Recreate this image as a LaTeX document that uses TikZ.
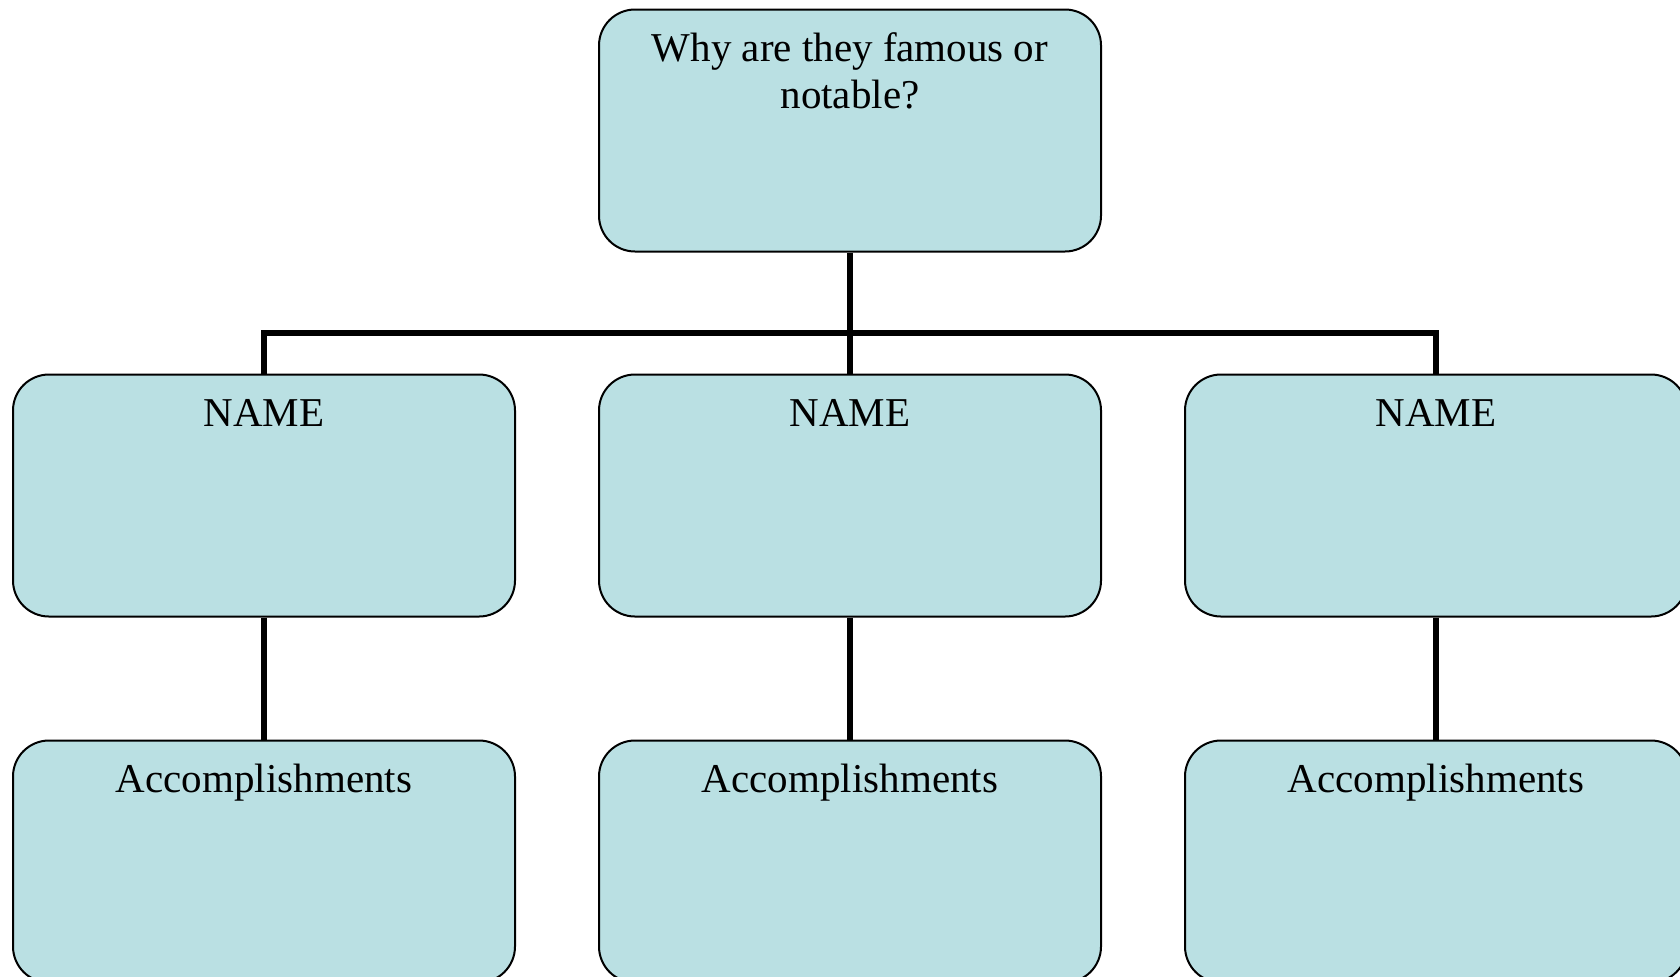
\documentclass[tikz,border=0pt]{standalone}
\usepackage{fontspec}
\setmainfont{Liberation Serif}
\usepackage{xcolor}
\definecolor{boxfill}{RGB}{186,224,227}
\usetikzlibrary{positioning}
\tikzstyle{chartbox} = [draw, line width=1pt, fill=boxfill, rounded corners=18pt,
    minimum width=251pt, align=center, inner xsep=6pt, inner ysep=12pt,
    text height=14pt, text depth=83pt, font=\fontsize{20.5pt}{23.5pt}\selectfont]
\tikzstyle{twoline} = [text height=37.5pt, text depth=59.5pt]
\tikzstyle{line} = [line width=3pt, -]

\begin{document}
\begin{tikzpicture}[x=0.5pt, y=-0.5pt]
        \useasboundingbox (0,0) rectangle (1680,976);

        \node[chartbox, twoline] (why) at (850,130.5) {Why are they famous or\\notable?};

        \node[chartbox, below=60.5pt of why] (name2) {NAME};
        \node[chartbox, left=41pt of name2] (name1) {NAME};
        \node[chartbox, right=41pt of name2] (name3) {NAME};

        \node[chartbox, below=61pt of name1] (acc1) {Accomplishments};
        \node[chartbox, below=61pt of name2] (acc2) {Accomplishments};
        \node[chartbox, below=61pt of name3] (acc3) {Accomplishments};

        % Draw Lines
        \coordinate (bar) at ([yshift=20.5pt]name2.north);
        \draw[line] (why.south) -- (name2.north);
        \draw[line] (name1.north) |- (bar) -| (name3.north);
        \draw[line] (name1.south) -- (acc1.north);
        \draw[line] (name2.south) -- (acc2.north);
        \draw[line] (name3.south) -- (acc3.north);

    \end{tikzpicture}
\end{document}
